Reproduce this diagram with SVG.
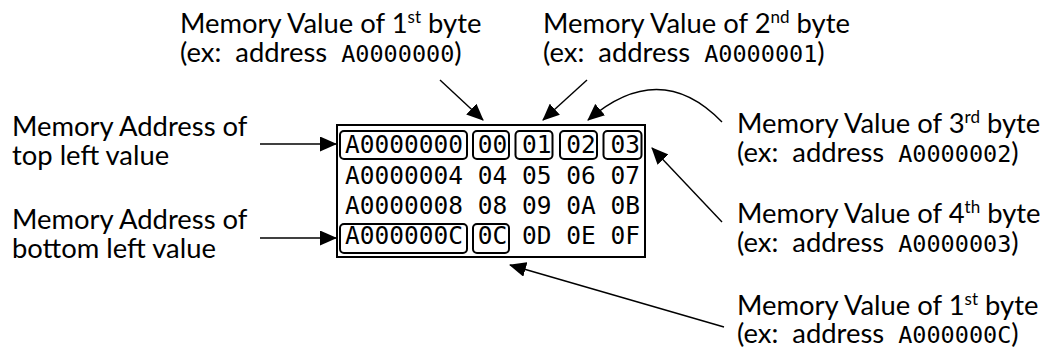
<svg xmlns="http://www.w3.org/2000/svg" width="1043" height="363" viewBox="0 0 1043 363">
<defs>
<marker id="ah" markerUnits="userSpaceOnUse" markerWidth="17" markerHeight="15" viewBox="0 0 17 15" refX="16" refY="7.5" orient="auto">
<path d="M0,0 L17,7.5 L0,15 Z" fill="#000"/>
</marker>
</defs>
<style>
.lbl{font-family:"Lato","Liberation Sans",sans-serif;font-size:27.4px;fill:#000}
.l2{word-spacing:7px}
.mono{font-family:"DejaVu Sans Mono",monospace;font-size:23.5px;word-spacing:0}
.sup{font-size:17px}
.grid{font-family:"DejaVu Sans Mono",monospace;font-size:24.5px;fill:#000}
.hl{fill:none;stroke:#000;stroke-width:2}
.cn{fill:none;stroke:#000;stroke-width:1.4}
</style>
<rect width="1043" height="363" fill="#fff"/>
<g id="memory-table">
<rect x="337" y="125" width="308" height="132" fill="#fff" stroke="#000" stroke-width="2"/>
<text class="grid" x="345" y="153" xml:space="preserve">A0000000 00 01 02 03</text>
<text class="grid" x="345" y="183.5" xml:space="preserve">A0000004 04 05 06 07</text>
<text class="grid" x="345" y="214" xml:space="preserve">A0000008 08 09 0A 0B</text>
<text class="grid" x="345" y="244" xml:space="preserve">A000000C 0C 0D 0E 0F</text>
<rect class="hl" x="340" y="131" width="127" height="28" rx="4"/>
<rect class="hl" x="473" y="131" width="36" height="28" rx="4"/>
<rect class="hl" x="515.5" y="131" width="37" height="28" rx="4"/>
<rect class="hl" x="560" y="131" width="37" height="28" rx="4"/>
<rect class="hl" x="603.5" y="131" width="38" height="28" rx="4"/>
<rect class="hl" x="340" y="224" width="127" height="29" rx="4"/>
<rect class="hl" x="473" y="224" width="36" height="29" rx="4"/>
</g>
<g id="label-byte1">
<text class="lbl" x="180" y="33">Memory Value of 1<tspan class="sup" dy="-10">st</tspan><tspan dy="10"> byte</tspan></text>
<text class="lbl l2" x="180" y="62">(ex: address <tspan class="mono">A0000000</tspan>)</text>
</g>
<g id="label-byte2">
<text class="lbl" x="543" y="33">Memory Value of 2<tspan class="sup" dy="-10">nd</tspan><tspan dy="10"> byte</tspan></text>
<text class="lbl l2" x="543" y="62">(ex: address <tspan class="mono">A0000001</tspan>)</text>
</g>
<g id="label-top-left">
<text class="lbl" x="12" y="136">Memory Address of</text>
<text class="lbl" x="12" y="165">top left value</text>
</g>
<g id="label-bottom-left">
<text class="lbl" x="12" y="229">Memory Address of</text>
<text class="lbl" x="12" y="258">bottom left value</text>
</g>
<g id="label-byte3">
<text class="lbl" x="737" y="133">Memory Value of 3<tspan class="sup" dy="-10">rd</tspan><tspan dy="10"> byte</tspan></text>
<text class="lbl l2" x="737" y="162">(ex: address <tspan class="mono">A0000002</tspan>)</text>
</g>
<g id="label-byte4">
<text class="lbl" x="737" y="223">Memory Value of 4<tspan class="sup" dy="-10">th</tspan><tspan dy="10"> byte</tspan></text>
<text class="lbl l2" x="737" y="252">(ex: address <tspan class="mono">A0000003</tspan>)</text>
</g>
<g id="label-byteC">
<text class="lbl" x="737" y="315">Memory Value of 1<tspan class="sup" dy="-10">st</tspan><tspan dy="10"> byte</tspan></text>
<text class="lbl l2" x="737" y="343">(ex: address <tspan class="mono">A000000C</tspan>)</text>
</g>
<g id="connectors">
<line class="cn" x1="260" y1="144" x2="336" y2="144" marker-end="url(#ah)"/>
<line class="cn" x1="260" y1="238" x2="336" y2="238" marker-end="url(#ah)"/>
<line class="cn" x1="440" y1="80" x2="483" y2="120" marker-end="url(#ah)"/>
<line class="cn" x1="587" y1="80" x2="543" y2="120" marker-end="url(#ah)"/>
<path class="cn" d="M722,122 Q660,58 588,120" marker-end="url(#ah)"/>
<line class="cn" x1="722" y1="222" x2="652" y2="148" marker-end="url(#ah)"/>
<line class="cn" x1="724" y1="327" x2="510" y2="265" marker-end="url(#ah)"/>
</g>
</svg>
